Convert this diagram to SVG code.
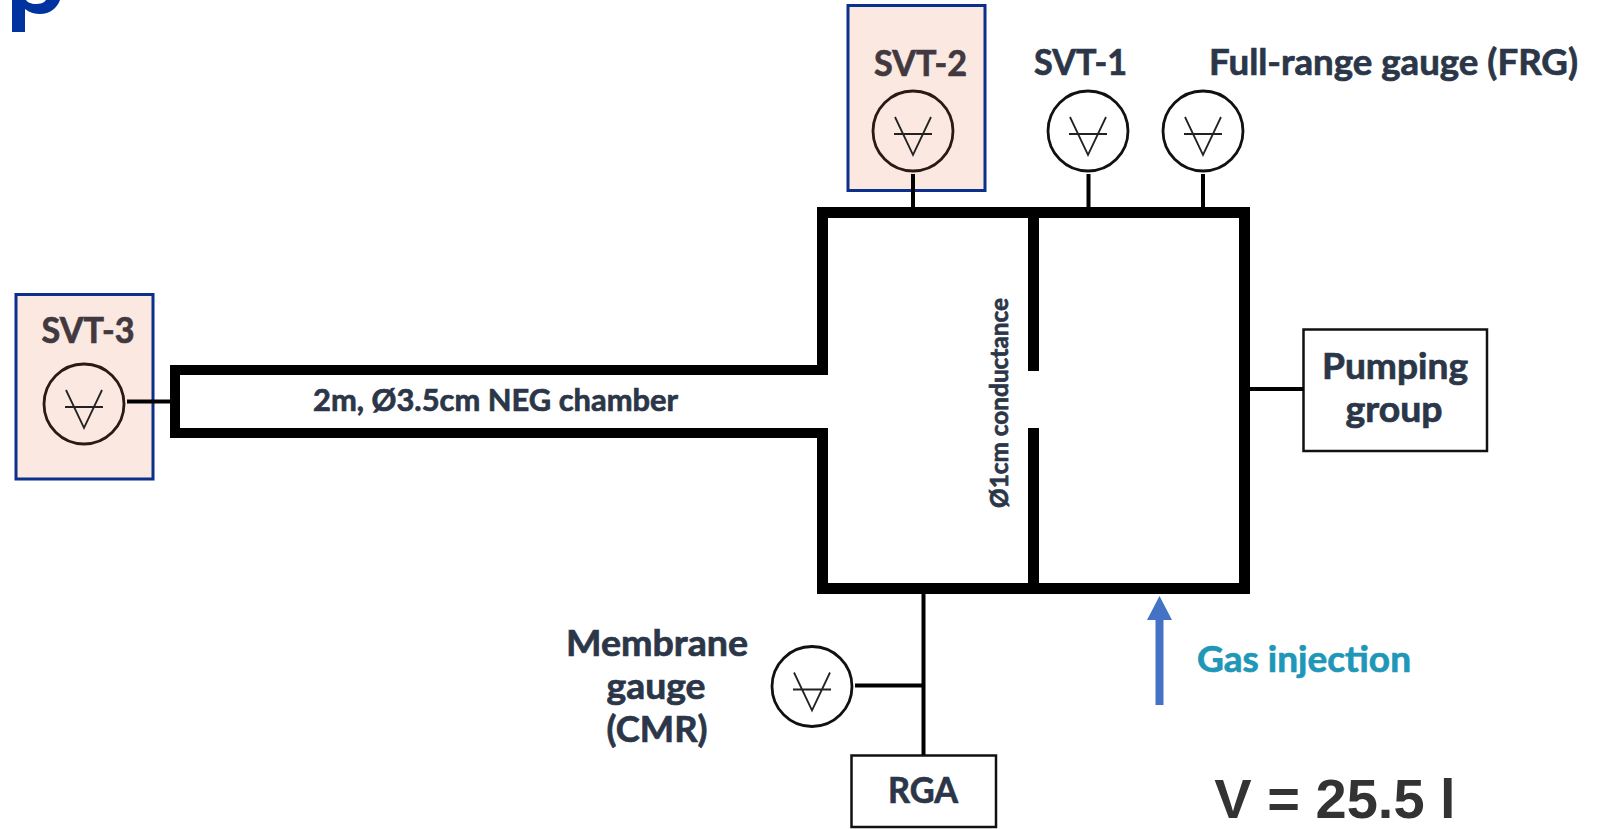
<svg xmlns="http://www.w3.org/2000/svg" width="1598" height="829" viewBox="0 0 1598 829">
<defs>
<style>
.lb{font-family:"Lato","Open Sans","Liberation Sans",sans-serif;font-weight:700;fill:#2b3648;stroke:#2b3648;stroke-width:.7;font-size:36px;text-anchor:middle}
.dk{fill:#41393f;stroke:#41393f}
.gs{fill:#1f97b8;stroke:#1f97b8}
.pk{fill:#fae8e1;stroke:#0b2f8a;stroke-width:3}
.box{fill:#fff;stroke:#111;stroke-width:2.5}
.thick{fill:#000}
.conn{stroke:#000;stroke-width:4;fill:none}
.cir{fill:#fff;stroke:#111;stroke-width:2.8}
.cir2{fill:none;stroke:#2a1a16;stroke-width:2.8}
.sym{fill:none;stroke:#222;stroke-width:1.8}
</style>
<g id="g"><path class="sym" d="M-18-14L0 24L18-14M-19 3H19"/></g>
</defs>
<rect width="1598" height="829" fill="#fff"/>
<path d="M12 0H25V9C30 13 35 14 40 14C50 14 57 8 60 0H46C44 3 40 4 36 4C31 4 27 2 26 0H25V32H12Z" fill="#0033a0"/>
<g id="svt-2"><rect class="pk" x="848" y="5.500" width="137" height="185"/><circle class="cir2" cx="913" cy="131" r="40"/><use href="#g" x="913" y="131"/><text class="lb dk" x="920.500" y="76" textLength="93" lengthAdjust="spacingAndGlyphs">SVT-2</text></g>
<g id="svt-1"><circle class="cir" cx="1088" cy="131" r="40"/><use href="#g" x="1088" y="131"/><text class="lb" x="1080.500" y="75" textLength="93" lengthAdjust="spacingAndGlyphs">SVT-1</text></g>
<g id="frg"><circle class="cir" cx="1203" cy="131" r="40"/><use href="#g" x="1203" y="131"/><text class="lb" x="1393.500" y="75" textLength="369" lengthAdjust="spacingAndGlyphs">Full-range gauge (FRG)</text></g>
<g id="svt-3"><rect class="pk" x="16" y="294.500" width="137" height="184.500"/><circle class="cir2" cx="84" cy="404" r="40"/><use href="#g" x="84" y="404"/><text class="lb dk" x="88" y="343" textLength="93" lengthAdjust="spacingAndGlyphs">SVT-3</text></g>
<g id="cmr"><circle class="cir" cx="812" cy="686.500" r="40"/><use href="#g" x="812" y="686.500"/><text class="lb" x="657" y="656" textLength="182" lengthAdjust="spacingAndGlyphs">Membrane</text><text class="lb" x="656" y="699" textLength="99" lengthAdjust="spacingAndGlyphs">gauge</text><text class="lb" x="657" y="742" textLength="101" lengthAdjust="spacingAndGlyphs">(CMR)</text></g>
<g id="rga"><rect class="box" x="851.500" y="755.500" width="144.500" height="71.500"/><text class="lb" x="923" y="803" textLength="70" lengthAdjust="spacingAndGlyphs">RGA</text></g>
<g id="pump"><rect class="box" x="1303.500" y="329.500" width="183.500" height="121.500"/><text class="lb" x="1395" y="379" textLength="146" lengthAdjust="spacingAndGlyphs">Pumping</text><text class="lb" x="1394" y="422" textLength="97" lengthAdjust="spacingAndGlyphs">group</text></g>
<g id="chamber">
<rect class="thick" x="817" y="207" width="433" height="11"/>
<rect class="thick" x="817" y="583" width="433" height="11"/>
<rect class="thick" x="1239" y="207" width="11" height="387"/>
<rect class="thick" x="817" y="207" width="11" height="168"/>
<rect class="thick" x="817" y="428" width="11" height="166"/>
<rect class="thick" x="1028" y="207" width="11" height="164"/>
<rect class="thick" x="1028" y="428" width="11" height="166"/>
<rect class="thick" x="170" y="365" width="650" height="10"/>
<rect class="thick" x="170" y="428" width="650" height="10"/>
<rect class="thick" x="170" y="365" width="10" height="73"/>
<text class="lb" x="495.500" y="411" style="font-size:31px" textLength="365" lengthAdjust="spacingAndGlyphs">2m, Ø3.5cm NEG chamber</text>
<text class="lb" transform="translate(1008 403) rotate(-90)" style="font-size:24px" textLength="210" lengthAdjust="spacingAndGlyphs">Ø1cm conductance</text>
</g>
<g id="connectors">
<path class="conn" d="M913 174V207M1088.500 174V207M1203 174V207M923.500 594V755M855 685.500H923M1250 389H1304M127 401.500H170"/>
</g>
<g id="gas"><path d="M1155.500 705V620H1147L1159.500 596L1172 620H1163.500V705Z" fill="#4472c4"/><text class="lb gs" x="1304" y="672" textLength="214" lengthAdjust="spacingAndGlyphs">Gas injection</text></g>
<text x="1335" y="818" style="font-family:'Liberation Sans',sans-serif;font-weight:700;font-size:56px;fill:#333;text-anchor:middle">V = 25.5 l</text>
</svg>
